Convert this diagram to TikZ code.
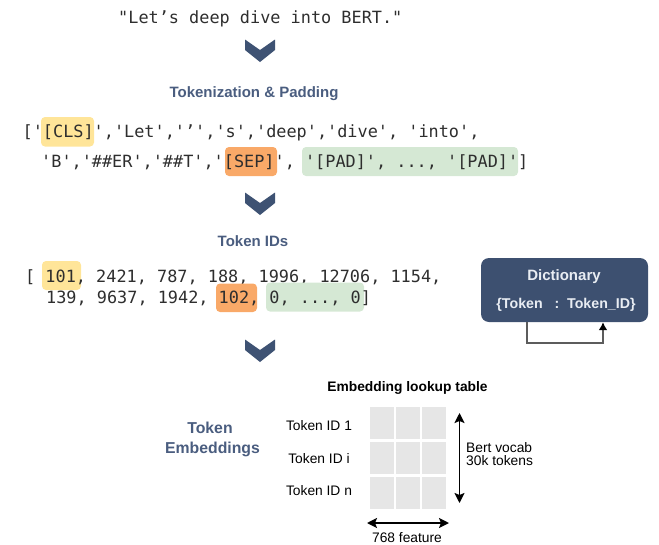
\documentclass[tikz,border=0pt]{standalone}
\usepackage{fontspec}
\setmainfont{Liberation Sans}
\newfontfamily\codefont{DejaVu Sans Mono}[WordSpace={1,0,0},PunctuationSpace=WordSpace]
\usetikzlibrary{arrows.meta}

\definecolor{slate}{HTML}{3E5273}
\definecolor{headblue}{HTML}{4A5D7F}
\definecolor{dictfill}{HTML}{3D5070}
\definecolor{dicttext}{HTML}{E9EDF3}
\definecolor{hlyellow}{HTML}{FFE599}
\definecolor{hlorange}{HTML}{F9A968}
\definecolor{hlgreen}{HTML}{D5E8D4}
\definecolor{cellgray}{HTML}{E6E6E6}
\definecolor{loopgray}{HTML}{5C5C5C}
\definecolor{codegray}{HTML}{2E2E2E}

\tikzset{
  code/.style={inner sep=0pt, anchor=base west, text=codegray,
    font=\codefont\fontsize{16.86pt}{20pt}\selectfont\frenchspacing},
  hl/.style={rounded corners=4pt},
  heading/.style={inner sep=0pt, anchor=base, text=headblue,
    font=\bfseries\fontsize{15pt}{18pt}\selectfont},
  bighead/.style={heading, font=\bfseries\fontsize{15.8pt}{18pt}\selectfont},
  plainlabel/.style={inner sep=0pt, anchor=base, text=black,
    font=\fontsize{13.8pt}{16pt}\selectfont},
  tabletitle/.style={inner sep=0pt, anchor=base, text=black,
    font=\bfseries\fontsize{13.8pt}{16pt}\selectfont},
  dictbox/.style={fill=dictfill, rounded corners=8pt, minimum width=167pt,
    minimum height=64pt, inner sep=0pt},
  dictname/.style={inner sep=0pt, anchor=base, text=dicttext,
    font=\bfseries\fontsize{15pt}{18pt}\selectfont},
  dictmap/.style={inner sep=0pt, anchor=base, text=dicttext,
    font=\bfseries\fontsize{14.2pt}{16pt}\selectfont},
  dictloop/.style={draw=loopgray, line width=1.8pt,
    -{Latex[length=8pt,width=9pt,color=black]}},
  dbl/.style={line width=1.8pt,
    {Stealth[length=10pt,width=10pt,inset=2pt]}-{Stealth[length=10pt,width=10pt,inset=2pt]}},
  chev/.pic={\fill[slate] (-15,-10.5) -- (0,0) -- (15,-10.5) -- (15,0) -- (0,12) -- (-15,0) -- cycle;},
}

\begin{document}
\begin{tikzpicture}[x=1pt, y=-1pt]
\useasboundingbox (0,0) rectangle (659,544);

% input sentence
\node[code] (sentence) at (118,23) {"Let’s deep dive into BERT."};
\pic at (260,50) {chev};

% tokenization
\node[heading] (tokhead) at (254,97) {Tokenization \& Padding};
\fill[hlyellow, hl] (41,117) rectangle (94,146.5);
\node[code] (tokens1) at (22.5,137) {['[CLS]','Let','’','s','deep','dive', 'into',};
\fill[hlorange, hl] (225,147) rectangle (277,176);
\fill[hlgreen, hl] (302,147) rectangle (518,176);
\node[code] (tokens2) at (41,167) {'B','\#\#ER','\#\#T','[SEP]', '[PAD]', ..., '[PAD]']};
\pic at (260,203) {chev};

% token ids
\node[heading] (idhead) at (253,246.5) {Token IDs};
\fill[hlyellow, hl] (42,261) rectangle (81,290);
\node[code] (ids1) at (25,282) {[ 101, 2421, 787, 188, 1996, 12706, 1154,};
\fill[hlorange, hl] (216,283.5) rectangle (257,312);
\fill[hlgreen, hl] (266,282.5) rectangle (364,311.5);
\node[code] (ids2) at (46,303) {139, 9637, 1942, 102, 0, ..., 0]};

% vocabulary dictionary
\node[dictbox] (dict) at (564.5,290) {};
\node[dictname] (dictlabel) at (564,280.5) {Dictionary};
\node[dictmap] (dictpair) at (566,308) {\{Token~~~:~~Token\_ID\}};
\draw[dictloop] ([xshift=-37.5pt]dict.south) -- ++(0,21) -| ([xshift=38.5pt]dict.south);

\pic at (260,350) {chev};

% embedding lookup
\node[tabletitle] (tabletitle) at (407.5,391) {Embedding lookup table};
\node[bighead] (embA) at (210,433) {Token};
\node[bighead] (embB) at (212.5,453) {Embeddings};
\node[plainlabel] (rowA) at (319,430) {Token ID 1};
\node[plainlabel] (rowB) at (319,463) {Token ID i};
\node[plainlabel] (rowC) at (319,495) {Token ID n};
\foreach \c in {0,1,2}
  \foreach \r in {0,1,2}
    \fill[cellgray] ({370+26.2*\c},{406.7+35.3*\r}) rectangle ++(23.6,31.8);

\coordinate (vtop) at (459.5,413);
\coordinate (vbot) at (459.5,503);
\draw[dbl] (vtop) -- (vbot);
\node[plainlabel, anchor=base west] (vocabA) at (466,452) {Bert vocab};
\node[plainlabel, anchor=base west] (vocabB) at (466,465.5) {30k tokens};

\coordinate (hleft) at (367,523);
\coordinate (hright) at (449,523);
\draw[dbl] (hleft) -- (hright);
\node[plainlabel] (featlabel) at (407,542) {768 feature};
\end{tikzpicture}
\end{document}
